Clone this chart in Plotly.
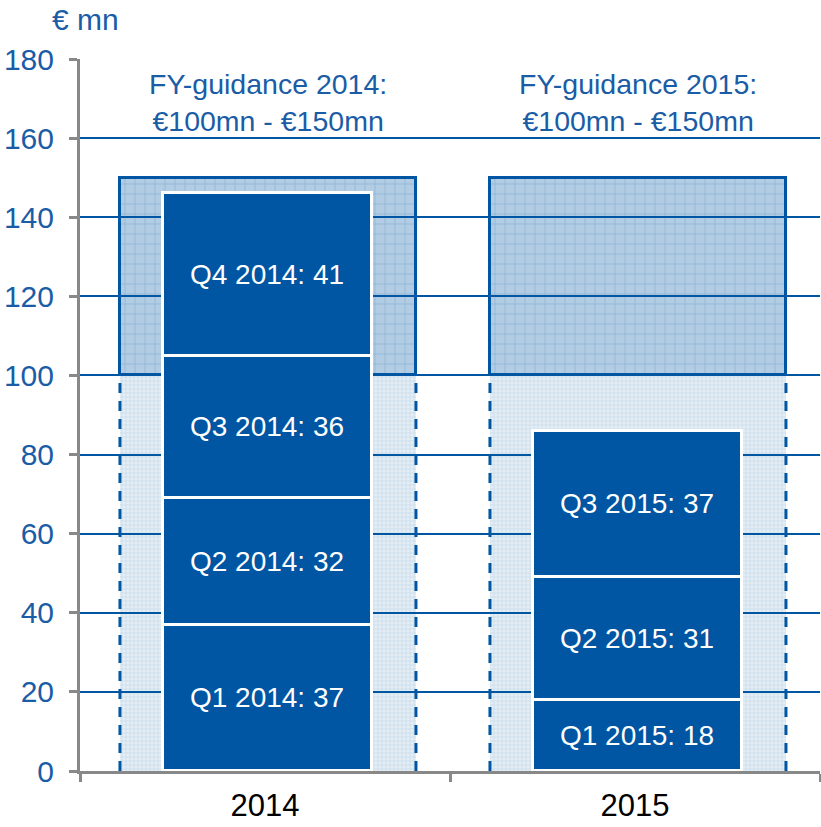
import plotly.graph_objects as go

categories = ["2014", "2015"]
guidance_low = [100, 100]
guidance_high = [150, 150]
guidance_labels = ["FY-guidance 2014:<br>€100mn - €150mn", "FY-guidance 2015:<br>€100mn - €150mn"]

quarters = ["Q1", "Q2", "Q3", "Q4"]
values_2014 = [37, 32, 36, 41]
values_2015 = [18, 31, 37]
series = {"2014": values_2014, "2015": values_2015}

y_ticks = [0, 20, 40, 60, 80, 100, 120, 140, 160, 180]

BLUE = "#0056A2"
TEXT_BLUE = "#1A5CA6"
GRAY = "#888888"
FONT = "Arial, Liberation Sans, sans-serif"
BOX_W = 0.8
BAR_W = 0.565

fig = go.Figure()

# lower guidance region (0 - 100)
fig.add_trace(go.Bar(
    x=categories, y=guidance_low, base=[0, 0], width=BOX_W, offset=-BOX_W / 2 + 0.008,
    marker=dict(color="rgba(0,86,162,0.10)", line=dict(width=0),
                pattern=dict(shape="+", size=4, solidity=0.3, fillmode="overlay",
                             fgcolor="rgba(0,86,162,0.28)")),
    hoverinfo="skip", showlegend=False))

# upper guidance region (100 - 150)
fig.add_trace(go.Bar(
    x=categories, y=[h - l for h, l in zip(guidance_high, guidance_low)], base=guidance_low,
    width=BOX_W, offset=-BOX_W / 2 + 0.008,
    marker=dict(color="rgba(0,86,162,0.30)", line=dict(width=3, color=BLUE),
                pattern=dict(shape="+", size=10, solidity=0.12, fillmode="overlay",
                             fgcolor="rgba(0,86,162,0.5)")),
    hoverinfo="skip", showlegend=False))

# quarterly stacked bars
for cat in categories:
    vals = series[cat]
    base = 0
    for q, v in zip(quarters, vals):
        fig.add_trace(go.Bar(
            x=[cat], y=[v], base=[base], width=BAR_W, offset=-BAR_W / 2 + 0.008,
            marker=dict(color=BLUE, line=dict(color="white", width=3)),
            text=[f"{q} {cat}: {v}"], textposition="inside", insidetextanchor="middle",
            textfont=dict(color="white", size=28, family=FONT),
            textangle=0, constraintext="none",
            hoverinfo="skip", showlegend=False))
        base += v

# dashed sides of lower region
for i, cat in enumerate(categories):
    for side in (-1, 1):
        xp = i + side * BOX_W / 2 + 0.008
        fig.add_shape(type="line", xref="x", yref="y", x0=xp, x1=xp, y0=0, y1=guidance_low[i],
                      line=dict(color=BLUE, width=3, dash="10px,8px"), layer="above")

# guidance annotations
for i, lab in enumerate(guidance_labels):
    fig.add_annotation(x=i + 0.008, y=169, xref="x", yref="y", text=lab, showarrow=False,
                       font=dict(color=TEXT_BLUE, size=28.5, family=FONT), align="center",
                       yanchor="middle")

fig.add_annotation(x=0.008, y=1.0548, xref="paper", yref="paper", text="€ mn", showarrow=False,
                   xanchor="center", yanchor="middle",
                   font=dict(color=TEXT_BLUE, size=30, family=FONT))

fig.update_layout(
    width=821, height=827,
    margin=dict(l=80, r=1, t=59, b=56),
    barmode="overlay",
    bargap=0,
    plot_bgcolor="white", paper_bgcolor="white",
    font=dict(family=FONT),
    xaxis=dict(type="category", range=[-0.5, 1.5], showgrid=False,
               showline=True, linecolor=GRAY, linewidth=3,
               ticks="outside", tickson="boundaries", ticklen=8, tickwidth=3, tickcolor=GRAY,
               ticklabelstandoff=5,
               tickfont=dict(size=31, color="black", family=FONT)),
    yaxis=dict(range=[0, 180], tickvals=y_ticks, showgrid=True, gridcolor=BLUE, gridwidth=2,
               showline=True, linecolor=GRAY, linewidth=3, zeroline=False,
               ticks="outside", ticklen=8, tickwidth=3, tickcolor=GRAY,
               ticklabelstandoff=9,
               tickfont=dict(size=30, color=TEXT_BLUE, family=FONT)),
)

fig.write_html("out.html", post_script="document.body.style.margin='0';",
               config={"displayModeBar": False})
